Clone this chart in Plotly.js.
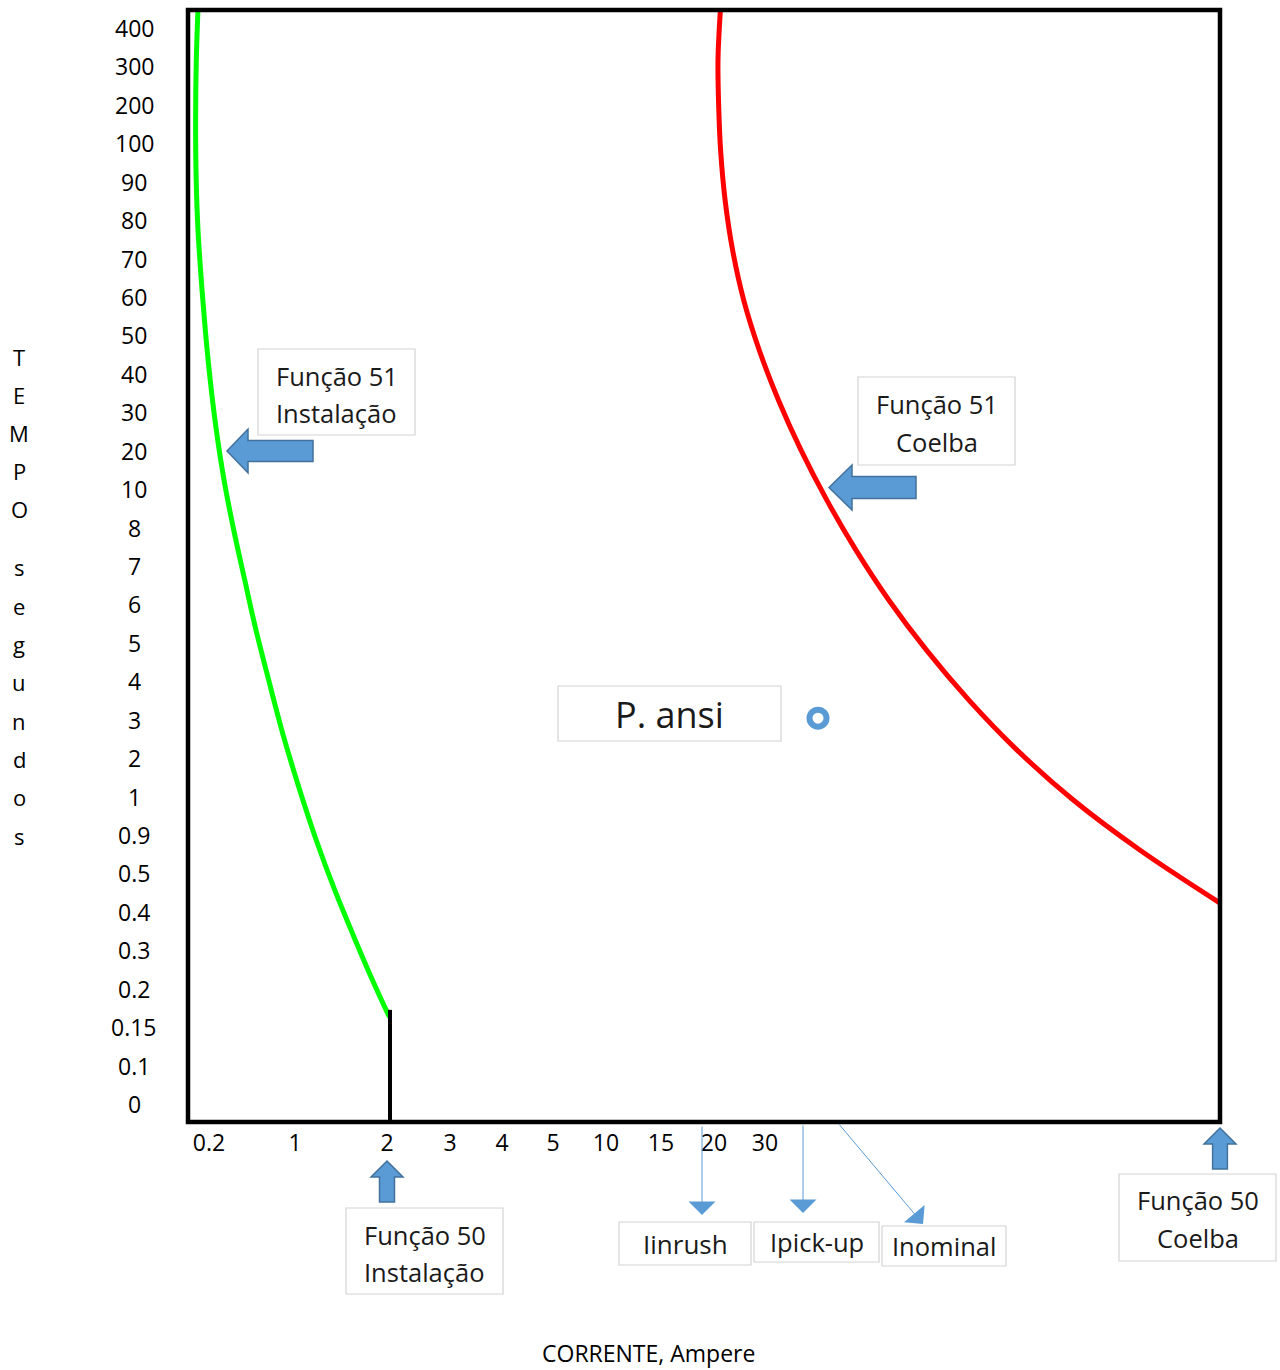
<!DOCTYPE html>
<html>
<head>
<meta charset="utf-8">
<script src="https://cdn.plot.ly/plotly-3.0.1.min.js"></script>
<style>html,body{margin:0;padding:0;background:#fff;}#chart{width:1280px;height:1370px;}</style>
</head>
<body>
<div id="chart"></div>
<script>
// ---- data ----
// y axis: evenly spaced labels, index 0 (bottom) .. 28 (top)
const yTickLabels = ['0','0.1','0.15','0.2','0.3','0.4','0.5','0.9','1','2','3','4','5','6','7','8','10','20','30','40','50','60','70','80','90','100','200','300','400'];
// x axis: label positions along the current scale (unevenly spaced in the drawing)
const xTickPos = [21,107,199,262,314,365,418,473,526,577];
const xTickLabels = ['0.2','1','2','3','4','5','10','15','20','30'];

// Função 51 Instalação (green curve)
const greenX = [10,8.3,7.6,8.2,10,13.3,17.3,22.2,28.3,36,45.7,56.7,68,80.7,95.2,111.7,128.2,146.7,167.2,184.4,201.5];
const greenY = [28.5,27.17,25.60,24.04,22.74,21.44,20.14,18.84,17.54,16.24,14.94,13.64,12.33,11.03,9.60,8.17,6.87,5.57,4.27,3.23,2.26];
// Função 50 Instalação (black vertical step)
const blackX = [202,202];
const blackY = [2.45,-0.5];
// Função 51 Coelba (red curve)
const redX = [532.5,530,530.8,532.6,537.1,544.6,555.7,571.2,590.4,612.9,638.7,667.8,700.9,738.5,780.9,829.1,885.3,951.8,1032];
const redY = [28.5,27.17,25.87,24.82,23.52,22.22,20.92,19.62,18.32,17.02,15.72,14.42,13.11,11.81,10.51,9.21,7.91,6.61,5.23];
// P. ansi point
const ansiX = [630];
const ansiY = [10.04];

const yTitle1 = ['T','E','M','P','O'];
const yTitle2 = ['s','e','g','u','n','d','o','s'];
const xTitle = 'CORRENTE, Ampere';

// ---- layout helpers (pixel -> paper) ----
const L=188, R=1220, T=10, B=1122;
const px = p => (p-L)/(R-L);
const py = p => (B-p)/(B-T);
const FONT = 'Open Sans, Lato, sans-serif';
const blue = '#5b9bd5', blueEdge = '#41719c';

const traces = [
  {x:greenX, y:greenY, mode:'lines', line:{color:'#00ff00', width:5, shape:'spline', smoothing:1}, hoverinfo:'skip'},
  {x:redX, y:redY, mode:'lines', line:{color:'#ff0000', width:5, shape:'spline', smoothing:1}, hoverinfo:'skip'},
  {x:blackX, y:blackY, mode:'lines', line:{color:'#000', width:4}, hoverinfo:'skip'},
  {x:ansiX, y:ansiY, mode:'markers', marker:{symbol:'circle-open', size:17, color:blue, line:{width:6, color:blue}}, hoverinfo:'skip', cliponaxis:false}
];

const annotations = [];
const shapes = [];

// y tick labels (centred)
yTickLabels.forEach((t,i)=>{
  annotations.push({xref:'paper', x:px(134), yref:'y', y:i, text:t, showarrow:false, xanchor:'center', yanchor:'middle', font:{family:FONT, size:23, color:'#000'}});
});
// y title letters
yTitle1.forEach((t,i)=>{
  annotations.push({xref:'paper', x:px(19), yref:'y', y:19.44 - i*0.99, text:t, showarrow:false, xanchor:'center', yanchor:'middle', font:{family:FONT, size:22, color:'#000'}});
});
yTitle2.forEach((t,i)=>{
  annotations.push({xref:'paper', x:px(19), yref:'y', y:13.97 - i*0.998, text:t, showarrow:false, xanchor:'center', yanchor:'middle', font:{family:FONT, size:22, color:'#000'}});
});
// x title
annotations.push({xref:'paper', x:px(648), yref:'paper', y:py(1353), text:xTitle, showarrow:false, xanchor:'center', yanchor:'middle', font:{family:FONT, size:23, color:'#000'}});

// text boxes: [x0,y0,x1,y1, lines, lineYs, fontsize]
const boxes = [
  [258,349,415,435, ['Função 51','Instalação'], [376,413], 25.5],
  [858,377,1015,465, ['Função 51','Coelba'], [404,442], 25.5],
  [558,686,781,741, ['P. ansi'], [714], 36],
  [346,1208,503,1294, ['Função 50','Instalação'], [1235,1272], 25.5],
  [619,1222,751,1265, ['Iinrush'], [1244], 26],
  [754,1222,879,1262, ['Ipick-up'], [1242], 25.5],
  [882,1226,1006,1266, ['Inominal'], [1246], 25.5],
  [1119,1174,1276,1261, ['Função 50','Coelba'], [1200,1238], 25.5]
];
boxes.forEach(b=>{
  shapes.push({type:'rect', xref:'paper', yref:'paper', x0:px(b[0]), x1:px(b[2]), y0:py(b[1]), y1:py(b[3]), line:{color:'#d4d4d4', width:1.2}, fillcolor:'#ffffff', layer:'above'});
  b[4].forEach((t,j)=>{
    annotations.push({xref:'paper', x:px((b[0]+b[2])/2), yref:'paper', y:py(b[5][j]), text:t, showarrow:false, xanchor:'center', yanchor:'middle', font:{family:FONT, size:b[6], color:'#1a1a1a'}});
  });
});

// block arrows
function leftArrow(tipX, yc, headX, hh, sh, endX){
  const p = [[tipX,yc],[headX,yc-hh],[headX,yc-sh],[endX,yc-sh],[endX,yc+sh],[headX,yc+sh],[headX,yc+hh]];
  return 'M' + p.map(q=>px(q[0])+','+py(q[1])).join(' L') + ' Z';
}
function upArrow(xc, tipY, headY, hw, sw, endY){
  const p = [[xc,tipY],[xc+hw,headY],[xc+sw,headY],[xc+sw,endY],[xc-sw,endY],[xc-sw,headY],[xc-hw,headY]];
  return 'M' + p.map(q=>px(q[0])+','+py(q[1])).join(' L') + ' Z';
}
[
  leftArrow(227,451,248,22,10.5,313),
  leftArrow(829,487.5,852,22.5,11,916),
  upArrow(387,1161,1177,16,7.5,1202),
  upArrow(1220,1128,1144,16,7.4,1169)
].forEach(path=>{
  shapes.push({type:'path', xref:'paper', yref:'paper', path:path, fillcolor:blue, line:{color:blueEdge, width:1.5}, layer:'above'});
});

// thin arrows: tip, tail
[
  [702,1215,702,1125],
  [803,1213,803,1124],
  [923,1224,838,1123]
].forEach(a=>{
  annotations.push({xref:'paper', yref:'paper', x:px(a[0]), y:py(a[1]), ax:a[2]-a[0], ay:a[3]-a[1], text:'', showarrow:true, arrowhead:1, arrowsize:4.5, arrowwidth:1, arrowcolor:blue, standoff:0, startstandoff:0});
});

// plot frame
shapes.push({type:'rect', xref:'paper', yref:'paper', x0:0, x1:1, y0:0, y1:1, line:{color:'#000', width:4.5}, layer:'above'});

const layout = {
  width:1280, height:1370,
  margin:{l:L, r:1280-R, t:T, b:1370-B, pad:0},
  paper_bgcolor:'#fff', plot_bgcolor:'#fff',
  showlegend:false,
  xaxis:{range:[0,R-L], tickmode:'array', tickvals:xTickPos, ticktext:xTickLabels, showgrid:false, zeroline:false, showline:false, ticks:'', ticklabelstandoff:5, tickfont:{family:FONT, size:23, color:'#000'}, fixedrange:true},
  yaxis:{range:[-0.468,28.468], showticklabels:false, showgrid:false, zeroline:false, showline:false, ticks:'', fixedrange:true},
  annotations:annotations,
  shapes:shapes
};

Plotly.newPlot('chart', traces, layout, {displayModeBar:false, staticPlot:true});
</script>
</body>
</html>
